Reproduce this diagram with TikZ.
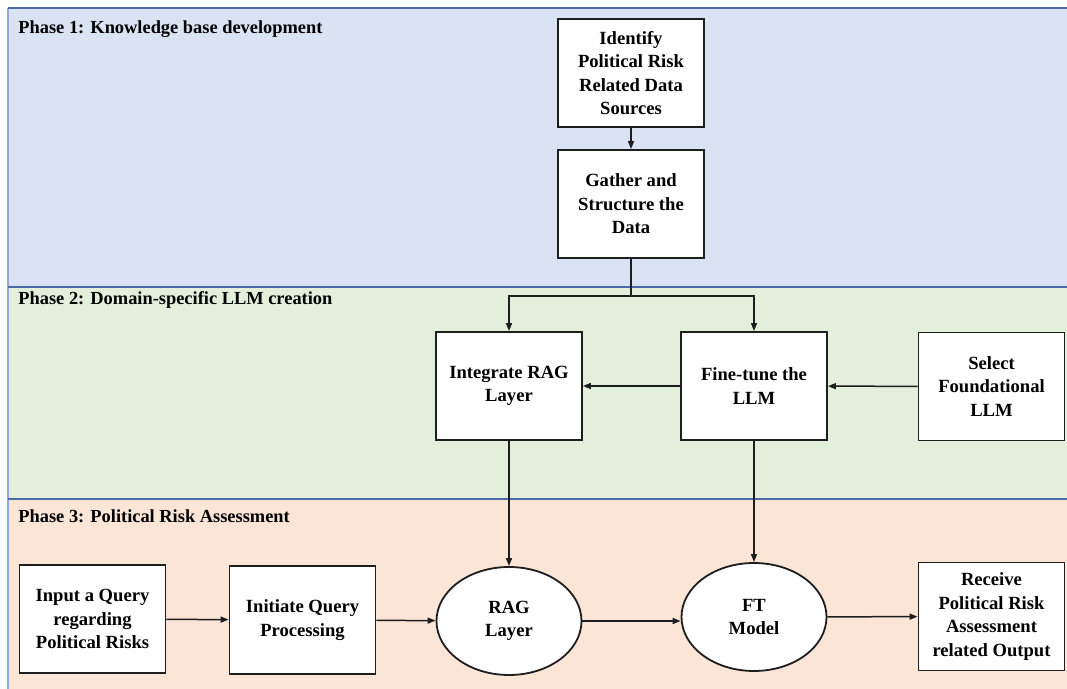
\documentclass[tikz,border=0pt]{standalone}
\usepackage{fontspec}
\setmainfont{Liberation Serif}
\usetikzlibrary{shapes.geometric,arrows.meta}

\definecolor{phaseone}{RGB}{218,227,243}
\definecolor{phasetwo}{RGB}{226,239,218}
\definecolor{phasethree}{RGB}{251,229,214}
\definecolor{bandline}{RGB}{76,106,168}
\definecolor{edgeline}{RGB}{143,170,220}
\definecolor{boxline}{RGB}{30,30,30}

\tikzset{
  phaselabel/.style={anchor=west, inner sep=0pt, font=\fontsize{9.2}{11}\selectfont\bfseries},
  stepbox/.style={draw=boxline, fill=white, line width=0.9pt, align=center,
    minimum width=73pt, minimum height=54pt, inner sep=1pt,
    font=\fontsize{9.3}{11.7}\selectfont\bfseries},
  stepoval/.style={ellipse, draw=boxline, fill=white, line width=0.9pt, align=center,
    minimum width=72.5pt, minimum height=54pt, inner sep=1pt,
    font=\fontsize{9.3}{11.7}\selectfont\bfseries},
  flow/.style={line width=0.75pt, draw=boxline, -{Triangle[length=4pt,width=3pt]}},
  plain/.style={line width=0.75pt, draw=boxline},
}

\begin{document}
\begin{tikzpicture}[x=0.5pt, y=-0.5pt]
  \useasboundingbox (0,0) rectangle (1067,689);

  % phase bands
  \fill[phaseone]   (8,8)   rectangle (1067,287);
  \fill[phasetwo]   (8,287) rectangle (1067,499);
  \fill[phasethree] (8,499) rectangle (1067,689);
  \draw[edgeline, line width=0.8pt] (8,689) -- (8,8);
  \draw[bandline, line width=1pt] (8,8) -- (1067,8);
  \draw[bandline, line width=1pt] (8,287) -- (1067,287);
  \draw[bandline, line width=1pt] (8,499) -- (1067,499);

  \node[phaselabel] (p1) at (18,29)  {Phase 1: Knowledge base development};
  \node[phaselabel] (p2) at (18,300) {Phase 2: Domain-specific LLM creation};
  \node[phaselabel] (p3) at (18,516) {Phase 3: Political Risk Assessment};

  % phase 1
  \node[stepbox] (identify) at (631,73)  {Identify\\Political Risk\\Related Data\\Sources};
  \node[stepbox] (gather)   at (631,204) {Gather and\\Structure the\\Data};

  % phase 2
  \node[stepbox] (integrate) at (509,386)   {Integrate RAG\\Layer};
  \node[stepbox] (finetune)  at (754,386)   {Fine-tune the\\LLM};
  \node[stepbox] (select)    at (991.5,386.5) {Select\\Foundational\\LLM};

  % phase 3
  \node[stepbox] (input)    at (92.5,619)  {Input a Query\\regarding\\Political Risks};
  \node[stepbox] (initiate) at (302.5,620) {Initiate Query\\Processing};
  \node[stepoval] (rag)     at (509,621)   {RAG\\Layer};
  \node[stepoval] (ft)      at (754,617)   {FT\\Model};
  \node[stepbox] (receive)  at (991.5,616.5) {Receive\\Political Risk\\Assessment\\related Output};

  % connectors
  \coordinate (split) at (631,296);
  \draw[flow] (identify) -- (gather);
  \draw[plain] (gather.south) -- (split);
  \draw[flow] (split) -| (integrate.north);
  \draw[flow] (split) -| (finetune.north);
  \draw[flow] (select) -- (finetune);
  \draw[flow] (finetune) -- (integrate);
  \draw[flow] (integrate) -- (rag);
  \draw[flow] (finetune) -- (ft);
  \draw[flow] (input) -- (initiate);
  \draw[flow] (initiate) -- (rag);
  \draw[flow] (rag.east) -- (ft.west |- rag.east);
  \draw[flow] (ft) -- (receive);
\end{tikzpicture}
\end{document}
